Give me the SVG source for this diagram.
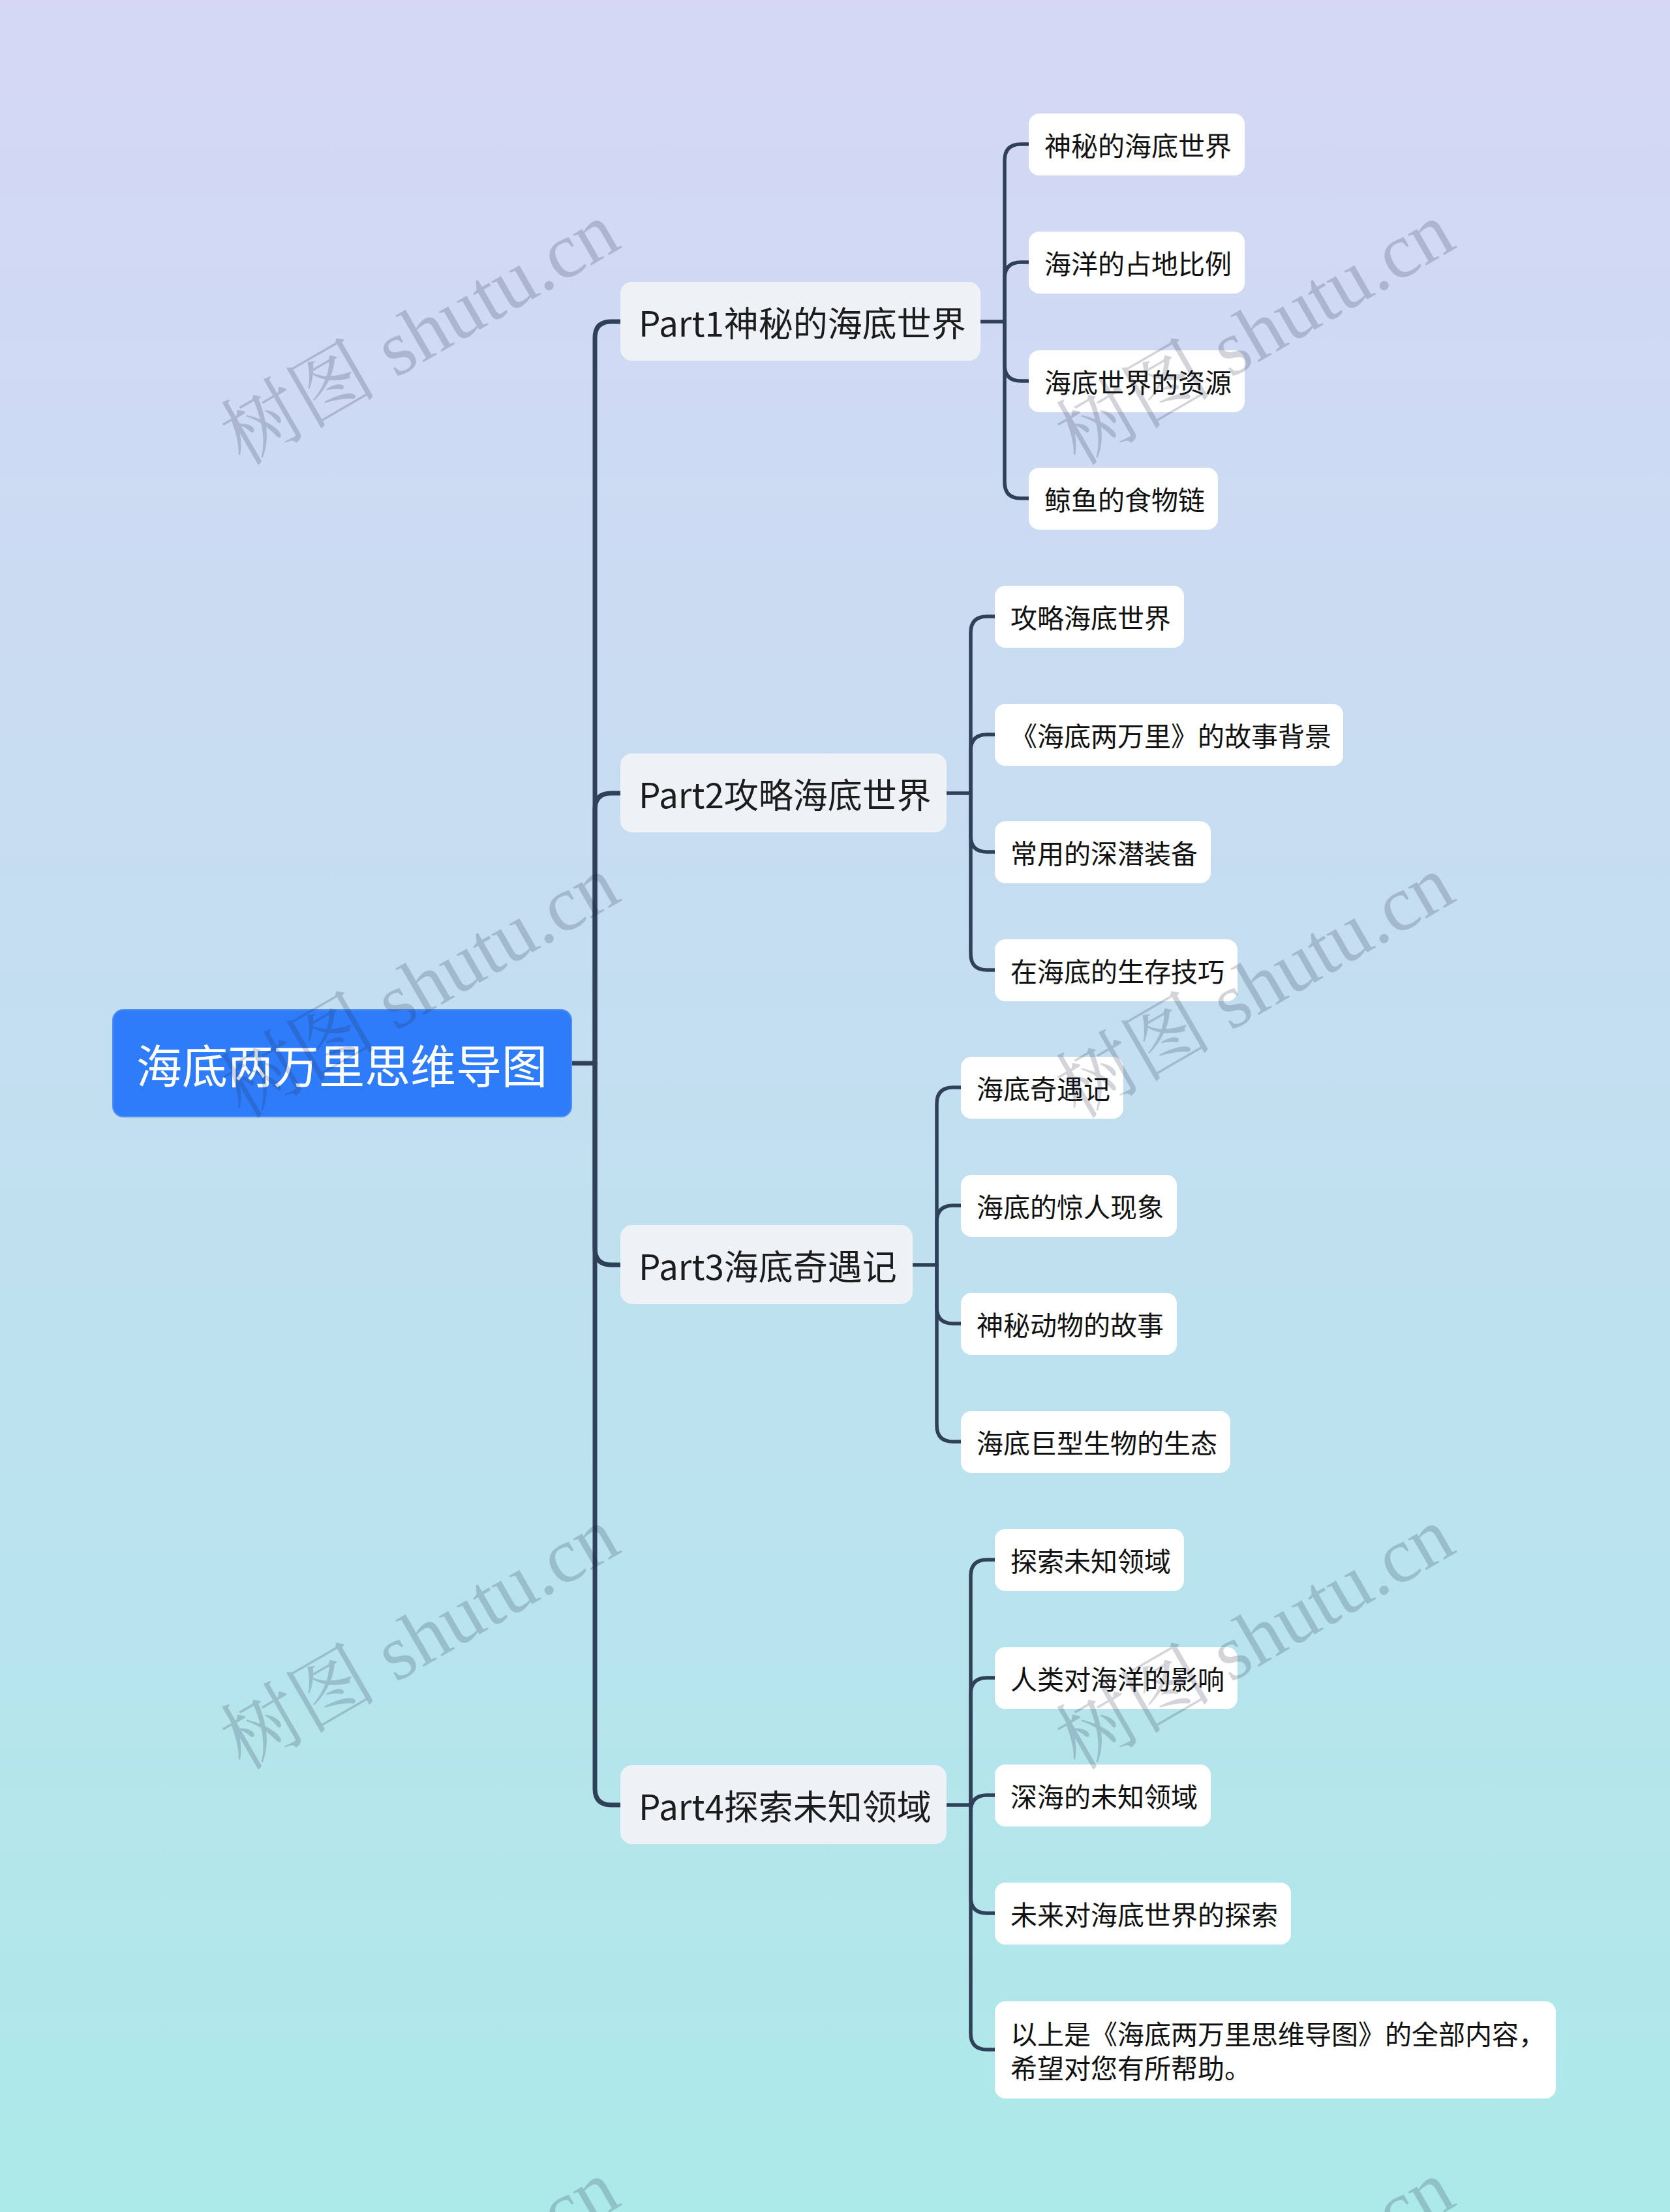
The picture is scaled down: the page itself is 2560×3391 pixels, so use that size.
<svg xmlns="http://www.w3.org/2000/svg" width="2560" height="3391" viewBox="0 0 2560 3391">
<defs>
<linearGradient id="bg" x1="0" y1="0" x2="0" y2="1">
<stop offset="0" stop-color="#d5d7f5"/>
<stop offset="0.5" stop-color="#c2dff0"/>
<stop offset="1" stop-color="#ace9e9"/>
</linearGradient>
<style>
.root{fill:#2f7cfa;stroke:#4f8ff5;stroke-width:2}
.part{fill:#eef2f6}
.leaf{fill:#ffffff}
.t{font-family:"Noto Sans CJK SC","Noto Sans",sans-serif;dominant-baseline:central}
.rt{font-size:70px;fill:#ffffff}
.pt{font-size:53px;fill:#1c1c1c}
.lt{font-size:41px;fill:#111111}
.trunk{fill:none;stroke:#2f4058;stroke-width:7;stroke-linecap:round}
.br{fill:none;stroke:#2f4058;stroke-width:5.5;stroke-linecap:round}
.wm{font-family:"Liberation Serif","Noto Serif CJK SC","Noto Sans CJK SC",serif;font-size:120px;fill:#1e2a40;fill-opacity:0.2}
</style>
</defs>
<rect x="0" y="0" width="2560" height="3391" fill="url(#bg)"/>

<g id="connectors">
<path class="trunk" d="M876 1630 H912"/>
<path class="trunk" d="M912 1630 V518 Q912 493 937 493 H951"/>
<path class="trunk" d="M912 1630 V1241 Q912 1216 937 1216 H951"/>
<path class="trunk" d="M912 1630 V1914 Q912 1939 937 1939 H951"/>
<path class="trunk" d="M912 1630 V2742 Q912 2767 937 2767 H951"/>

<path class="br" d="M1503 493 H1540"/>
<path class="br" d="M1540 493 V246 Q1540 221 1565 221 H1577"/>
<path class="br" d="M1540 493 V427 Q1540 402 1565 402 H1577"/>
<path class="br" d="M1540 493 V559 Q1540 584 1565 584 H1577"/>
<path class="br" d="M1540 493 V739 Q1540 764 1565 764 H1577"/>

<path class="br" d="M1451 1216 H1488"/>
<path class="br" d="M1488 1216 V970 Q1488 945 1513 945 H1525"/>
<path class="br" d="M1488 1216 V1151 Q1488 1126 1513 1126 H1525"/>
<path class="br" d="M1488 1216 V1281 Q1488 1306 1513 1306 H1525"/>
<path class="br" d="M1488 1216 V1462 Q1488 1487 1513 1487 H1525"/>

<path class="br" d="M1399 1939 H1436"/>
<path class="br" d="M1436 1939 V1692 Q1436 1667 1461 1667 H1473"/>
<path class="br" d="M1436 1939 V1873 Q1436 1848 1461 1848 H1473"/>
<path class="br" d="M1436 1939 V2004 Q1436 2029 1461 2029 H1473"/>
<path class="br" d="M1436 1939 V2185 Q1436 2210 1461 2210 H1473"/>

<path class="br" d="M1451 2767 H1488"/>
<path class="br" d="M1488 2767 V2416 Q1488 2391 1513 2391 H1525"/>
<path class="br" d="M1488 2767 V2597 Q1488 2572 1513 2572 H1525"/>
<path class="br" d="M1488 2767 V2777 Q1488 2752 1513 2752 H1525"/>
<path class="br" d="M1488 2767 V2908 Q1488 2933 1513 2933 H1525"/>
<path class="br" d="M1488 2767 V3117 Q1488 3142 1513 3142 H1525"/>
</g>

<g id="root">
<rect class="root" x="173" y="1548" width="703" height="164" rx="16"/>
<text class="t rt" x="524" y="1630" text-anchor="middle">海底两万里思维导图</text>
</g>

<g id="part1">
<rect class="part" x="951" y="432" width="552" height="121" rx="18"/>
<text class="t pt" x="979" y="493">Part1神秘的海底世界</text>
</g>
<g id="part2">
<rect class="part" x="951" y="1155" width="500" height="121" rx="18"/>
<text class="t pt" x="979" y="1216">Part2攻略海底世界</text>
</g>
<g id="part3">
<rect class="part" x="951" y="1878" width="448" height="121" rx="18"/>
<text class="t pt" x="979" y="1939">Part3海底奇遇记</text>
</g>
<g id="part4">
<rect class="part" x="951" y="2706" width="500" height="121" rx="18"/>
<text class="t pt" x="979" y="2767">Part4探索未知领域</text>
</g>

<g id="p1c1"><rect class="leaf" x="1577" y="174" width="331" height="95" rx="16"/><text class="t lt" x="1601" y="221">神秘的海底世界</text></g>
<g id="p1c2"><rect class="leaf" x="1577" y="355" width="331" height="95" rx="16"/><text class="t lt" x="1601" y="402">海洋的占地比例</text></g>
<g id="p1c3"><rect class="leaf" x="1577" y="537" width="331" height="95" rx="16"/><text class="t lt" x="1601" y="584">海底世界的资源</text></g>
<g id="p1c4"><rect class="leaf" x="1577" y="717" width="290" height="95" rx="16"/><text class="t lt" x="1601" y="764">鲸鱼的食物链</text></g>

<g id="p2c1"><rect class="leaf" x="1525" y="898" width="290" height="95" rx="16"/><text class="t lt" x="1549" y="945">攻略海底世界</text></g>
<g id="p2c2"><rect class="leaf" x="1525" y="1079" width="534" height="95" rx="16"/><text class="t lt" x="1549" y="1126">《海底两万里》的故事背景</text></g>
<g id="p2c3"><rect class="leaf" x="1525" y="1259" width="331" height="95" rx="16"/><text class="t lt" x="1549" y="1306">常用的深潜装备</text></g>
<g id="p2c4"><rect class="leaf" x="1525" y="1440" width="372" height="95" rx="16"/><text class="t lt" x="1549" y="1487">在海底的生存技巧</text></g>

<g id="p3c1"><rect class="leaf" x="1473" y="1620" width="249" height="95" rx="16"/><text class="t lt" x="1497" y="1667">海底奇遇记</text></g>
<g id="p3c2"><rect class="leaf" x="1473" y="1801" width="331" height="95" rx="16"/><text class="t lt" x="1497" y="1848">海底的惊人现象</text></g>
<g id="p3c3"><rect class="leaf" x="1473" y="1982" width="331" height="95" rx="16"/><text class="t lt" x="1497" y="2029">神秘动物的故事</text></g>
<g id="p3c4"><rect class="leaf" x="1473" y="2163" width="413" height="95" rx="16"/><text class="t lt" x="1497" y="2210">海底巨型生物的生态</text></g>

<g id="p4c1"><rect class="leaf" x="1525" y="2344" width="290" height="95" rx="16"/><text class="t lt" x="1549" y="2391">探索未知领域</text></g>
<g id="p4c2"><rect class="leaf" x="1525" y="2525" width="372" height="95" rx="16"/><text class="t lt" x="1549" y="2572">人类对海洋的影响</text></g>
<g id="p4c3"><rect class="leaf" x="1525" y="2705" width="331" height="95" rx="16"/><text class="t lt" x="1549" y="2752">深海的未知领域</text></g>
<g id="p4c4"><rect class="leaf" x="1525" y="2886" width="454" height="95" rx="16"/><text class="t lt" x="1549" y="2933">未来对海底世界的探索</text></g>
<g id="p4c5"><rect class="leaf" x="1525" y="3068" width="860" height="149" rx="16"/>
<text class="t lt" x="1549" y="3116">以上是《海底两万里思维导图》的全部内容，</text>
<text class="t lt" x="1549" y="3168">希望对您有所帮助。</text></g>

<g id="watermarks">
<text class="wm" transform="translate(644 512) rotate(-30)" x="0" y="40" text-anchor="middle">树图 shutu.cn</text>
<text class="wm" transform="translate(1924 512) rotate(-30)" x="0" y="40" text-anchor="middle">树图 shutu.cn</text>
<text class="wm" transform="translate(644 1513) rotate(-30)" x="0" y="40" text-anchor="middle">树图 shutu.cn</text>
<text class="wm" transform="translate(1924 1513) rotate(-30)" x="0" y="40" text-anchor="middle">树图 shutu.cn</text>
<text class="wm" transform="translate(644 2512) rotate(-30)" x="0" y="40" text-anchor="middle">树图 shutu.cn</text>
<text class="wm" transform="translate(1924 2512) rotate(-30)" x="0" y="40" text-anchor="middle">树图 shutu.cn</text>
<text class="wm" transform="translate(644 3513) rotate(-30)" x="0" y="40" text-anchor="middle">树图 shutu.cn</text>
<text class="wm" transform="translate(1924 3513) rotate(-30)" x="0" y="40" text-anchor="middle">树图 shutu.cn</text>
</g>
</svg>
